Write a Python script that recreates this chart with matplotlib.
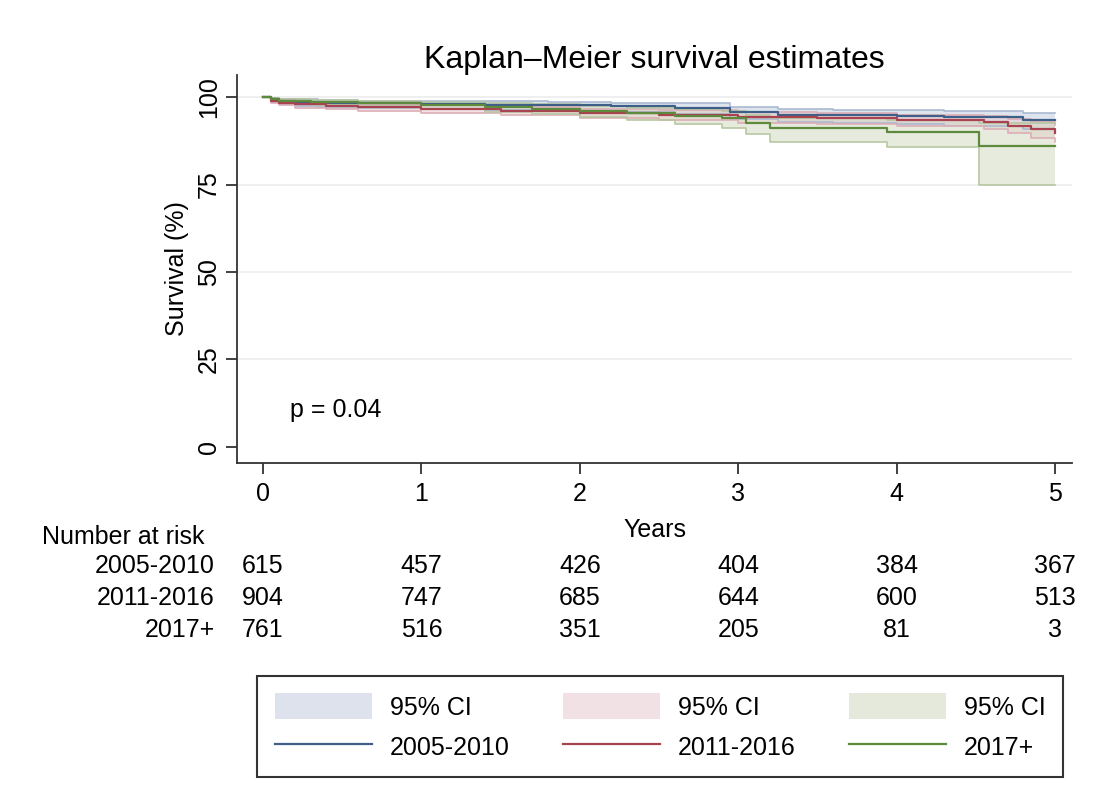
import numpy as np
import matplotlib
matplotlib.use("Agg")
import matplotlib.pyplot as plt
from matplotlib.patches import Patch
from matplotlib.lines import Line2D
from matplotlib.transforms import blended_transform_factory

plt.rcParams['font.family'] = ['Liberation Sans', 'DejaVu Sans']

# survival curves (years, %)
t_b = [0, 0.05, 0.1, 0.2, 0.35, 0.6, 1.0, 1.4, 1.8, 2.2, 2.6, 2.95, 3.25, 3.6, 4.0, 4.3, 4.8, 5.0]
s_b = [100, 99.3, 98.9, 98.6, 98.4, 98.2, 98.0, 97.8, 97.6, 97.3, 97.0, 95.6, 95.0, 94.8, 94.5, 94.2, 93.4, 93.4]
lo_b = [100, 98.5, 97.9, 97.5, 97.2, 96.9, 96.6, 96.3, 96.0, 95.6, 95.2, 93.6, 92.9, 92.6, 92.2, 91.8, 90.8, 90.8]
hi_b = [100, 99.7, 99.5, 99.3, 99.2, 99.0, 98.9, 98.8, 98.6, 98.4, 98.2, 97.1, 96.6, 96.4, 96.2, 96.0, 95.4, 95.4]

t_r = [0, 0.05, 0.1, 0.2, 0.4, 0.6, 1.0, 1.5, 2.0, 2.5, 3.0, 3.5, 4.0, 4.55, 4.7, 4.85, 5.0]
s_r = [100, 99.0, 98.4, 97.9, 97.5, 97.1, 96.7, 96.1, 95.5, 94.9, 94.3, 93.9, 93.4, 92.9, 91.8, 90.8, 89.7]
lo_r = [100, 98.3, 97.6, 97.0, 96.5, 96.0, 95.5, 94.8, 94.1, 93.4, 92.7, 92.2, 91.6, 90.9, 89.6, 88.4, 87.1]
hi_r = [100, 99.5, 99.0, 98.6, 98.3, 98.0, 97.7, 97.2, 96.7, 96.2, 95.7, 95.4, 95.0, 94.6, 93.7, 92.9, 92.0]

t_g = [0, 0.05, 0.1, 0.3, 0.6, 1.0, 1.4, 1.7, 2.0, 2.3, 2.6, 2.9, 3.05, 3.2, 3.94, 4.52, 5.0]
s_g = [100, 99.4, 99.0, 98.6, 98.3, 97.8, 97.2, 96.7, 96.0, 95.4, 94.7, 94.0, 92.6, 91.1, 90.0, 86.0, 86.0]
lo_g = [100, 98.8, 98.3, 97.8, 97.3, 96.6, 95.8, 95.1, 94.2, 93.3, 92.3, 91.2, 89.5, 87.1, 85.7, 75.0, 75.0]
hi_g = [100, 99.8, 99.5, 99.2, 99.0, 98.7, 98.3, 97.9, 97.4, 97.0, 96.5, 96.0, 95.0, 94.0, 93.4, 92.5, 92.5]

groups = ['2005-2010', '2011-2016', '2017+']
risk_times = [0, 1, 2, 3, 4, 5]
risk_b = [615, 457, 426, 404, 384, 367]
risk_r = [904, 747, 685, 644, 600, 513]
risk_g = [761, 516, 351, 205, 81, 3]

line_cols = ['#3e5f88', '#a8434f', '#5e8a3e']
fill_cols = ['#c3cfe0', '#ebc9cf', '#d2dcc3']
edge_cols = ['#aab9d0', '#ddaeb6', '#b7c7a3']
leg_fill = ['#dde2ec', '#f1e1e4', '#e5e9dc']

fig = plt.figure(figsize=(11.05, 8.06), dpi=100)
ax = fig.add_axes([237/1105, 1-463/806, (1072-237)/1105, (463-75)/806])

curves = [(t_b, s_b, lo_b, hi_b), (t_r, s_r, lo_r, hi_r), (t_g, s_g, lo_g, hi_g)]
for i, (t, s, lo, hi) in enumerate(curves):
    ax.fill_between(t, lo, hi, step='post', color=fill_cols[i], alpha=0.55, lw=0)
    ax.step(t, lo, where='post', color=edge_cols[i], lw=1.2)
    ax.step(t, hi, where='post', color=edge_cols[i], lw=1.2)
for i, (t, s, lo, hi) in enumerate(curves):
    ax.step(t, s, where='post', color=line_cols[i], lw=1.6)

ax.set_xlim(-0.164, 5.107)
ax.set_ylim(-4.6, 106.3)
ax.set_xticks(risk_times)
ax.set_yticks([0, 25, 50, 75, 100])
for yv in [25, 50, 75, 100]:
    ax.axhline(yv, color='#ececec', lw=1.2, zorder=0)
ax.tick_params(axis='both', labelsize=18, length=8, width=1.3, direction='out', color='#333333')
ax.tick_params(axis='x', pad=6)
plt.setp(ax.get_yticklabels(), rotation=90, va='center')
ax.spines['top'].set_visible(False)
ax.spines['right'].set_visible(False)
for sp in ['left', 'bottom']:
    ax.spines[sp].set_linewidth(1.3)
    ax.spines[sp].set_color('#333333')
ax.set_xlabel('Years', fontsize=18, labelpad=8)
ax.set_ylabel('Survival (%)', fontsize=18, labelpad=6)
ax.set_title('Kaplan\u2013Meier survival estimates', fontsize=23, pad=3)
ax.text(0.17, 10.6, 'p = 0.04', fontsize=18, va='center', ha='left')

# number at risk table
tr = blended_transform_factory(ax.transData, fig.transFigure)
fig.text(42/1105, 1-537/806, 'Number at risk', fontsize=18, va='center', ha='left')
rows = [risk_b, risk_r, risk_g]
row_y = [566, 598, 630]
for lab, vals, yp in zip(groups, rows, row_y):
    fig.text(215/1105, 1-yp/806, lab, fontsize=18, va='center', ha='right')
    for tx, v in zip(risk_times, vals):
        ax.text(tx, 1-yp/806, str(v), fontsize=18, va='center', ha='center',
                transform=tr, clip_on=False)

handles = []
labels = []
for i in range(3):
    handles.append(Patch(facecolor=leg_fill[i], edgecolor='none'))
    labels.append('95% CI')
    handles.append(Line2D([], [], color=line_cols[i], lw=1.6))
    labels.append(groups[i])
leg = fig.legend(handles, labels, ncol=3, fontsize=18, loc='center',
                 bbox_to_anchor=(257/1105, 1-775/806, (1063-257)/1105, 97/806),
                 mode='expand', borderaxespad=0, frameon=True, fancybox=False,
                 edgecolor='black', handlelength=3.9, handleheight=1.2,
                 handletextpad=0.7, columnspacing=2.5, labelspacing=0.55,
                 borderpad=0.7)
leg.get_frame().set_linewidth(1.5)

fig.savefig('out.png', dpi=100)
